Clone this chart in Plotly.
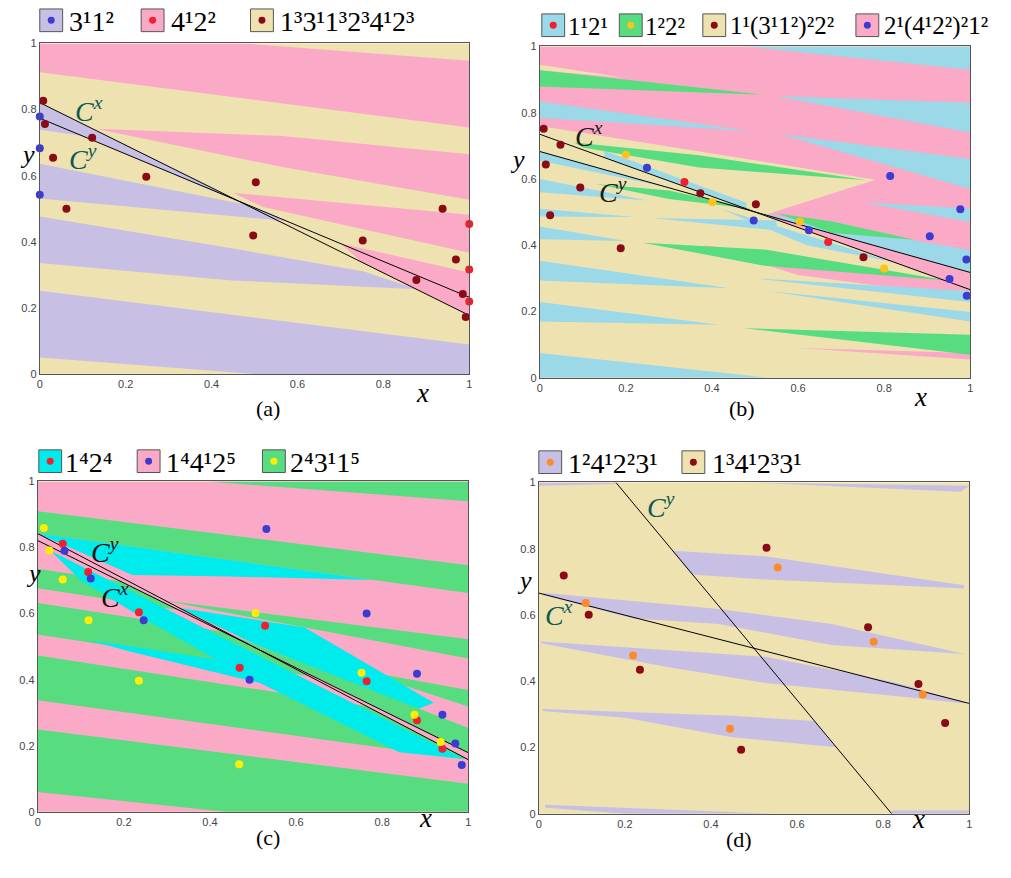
import plotly.graph_objects as go

W, H = 1011, 878
COL = {"pink": "#FAAAC6", "beige": "#EEE2B0", "lav": "#C8C0E4",
       "blue": "#9BD8E8", "green": "#58DC80", "cyan": "#00ECEC"}
DOT = {"blue": "#3C3CD2", "red": "#F0202E", "dred": "#8A0A16",
       "gold": "#FFC21A", "yellow": "#FFEE00", "orange": "#FF8A2A"}

# ---------------- data: panel (a) ----------------
a_bands = [
    ("pink", [0, 0.478, 1, 1, 0], [1, 1, 0.948, 0.746, 0.913]),
    ("pink", [0.13, 0.565, 1, 1, 0.565], [0.742, 0.72, 0.665, 0.527, 0.626]),
    ("pink", [0.45, 1, 1, 0.755, 0.52], [0.548, 0.482, 0.367, 0.437, 0.505]),
    ("pink", [0.70, 1, 1, 0.75], [0.395, 0.307, 0.177, 0.338]),
    ("pink", [0.47, 0.63, 0.56], [0.497, 0.432, 0.458]),
    ("lav", [0, 0.5, 0.10, 0], [0.821, 0.5, 0.72, 0.739]),
    ("lav", [0, 0.49, 0.573, 0], [0.636, 0.51, 0.463, 0.531]),
    ("lav", [0, 0.447, 0.755, 0.879, 0.447, 0], [0.476, 0.38, 0.31, 0.256, 0.283, 0.336]),
    ("lav", [0, 1, 1, 0.5, 0], [0.252, 0.089, 0, 0, 0.05]),
]
a_cx = ([0, 1], [0.821, 0.177])
a_cy = ([0, 1], [0.774, 0.232])
a_blue_x = [0, 0, 0]
a_blue_y = [0.779, 0.683, 0.542]
a_red_x = [1, 1, 1]
a_red_y = [0.454, 0.316, 0.219]
a_dred_x = [0.008, 0.012, 0.031, 0.062, 0.122, 0.248, 0.503, 0.497, 0.752, 0.877, 0.938, 0.969, 0.985, 0.992]
a_dred_y = [0.827, 0.756, 0.654, 0.5, 0.715, 0.597, 0.58, 0.419, 0.404, 0.284, 0.5, 0.346, 0.242, 0.172]

# ---------------- data: panel (b) ----------------
b_bands = [
    ("pink", [0, 1, 1, 0.52, 0.78, 0], [1, 1, 0.266, 0.491, 0.598, 0.76]),
    ("pink", [0.38, 0.947, 1, 1, 0.83, 0.6], [0.40, 0.294, 0.27, 0.262, 0.27, 0.31]),
    ("pink", [0.6, 1, 1], [0.09, 0.075, 0.055]),
    ("beige", [0, 0.2, 0], [0.945, 0.905, 0.928]),
    ("blue", [0.477, 1, 1], [1, 1, 0.93]),
    ("blue", [0.55, 1, 1], [0.85, 0.83, 0.74]),
    ("blue", [0.56, 1, 1], [0.735, 0.66, 0.57]),
    ("blue", [0.75, 1, 1], [0.53, 0.51, 0.47]),
    ("blue", [0.5, 1, 1], [0.5, 0.385, 0.318]),
    ("blue", [0, 0.493, 0], [0.834, 0.744, 0.785]),
    ("blue", [0.15, 0.48, 0.48, 0.15], [0.685, 0.528, 0.51, 0.665]),
    ("blue", [0, 0.3, 0], [0.683, 0.574, 0.655]),
    ("blue", [0, 0.25, 0], [0.60, 0.535, 0.56]),
    ("blue", [0, 0.22, 0], [0.51, 0.485, 0.487]),
    ("blue", [0, 0.2, 0], [0.457, 0.413, 0.418]),
    ("blue", [0.26, 0.55, 0.55], [0.482, 0.475, 0.445]),
    ("blue", [0.42, 0.82, 0.62], [0.51, 0.35, 0.40]),
    ("blue", [0, 0.44, 0], [0.353, 0.27, 0.294]),
    ("blue", [0, 0.416, 0], [0.229, 0.16, 0.17]),
    ("blue", [0, 0.533, 0], [0.075, 0, 0]),
    ("blue", [0.5, 1, 1], [0.30, 0.262, 0.229]),
    ("blue", [0.53, 1, 1], [0.262, 0.199, 0.17]),
    ("green", [0, 0.523, 0], [0.928, 0.854, 0.879]),
    ("green", [0.08, 0.37, 0.76, 0.37, 0.10], [0.71, 0.672, 0.596, 0.635, 0.695]),
    ("green", [0.239, 0.523, 0.947, 0.523], [0.408, 0.387, 0.294, 0.338]),
    ("green", [0.55, 0.68, 0.87, 0.68], [0.497, 0.472, 0.417, 0.437]),
    ("green", [0.13, 0.3, 0.49, 0.3], [0.585, 0.565, 0.51, 0.54]),
    ("green", [0.473, 1, 1], [0.15, 0.13, 0.07]),
]
b_cx = ([0, 1], [0.735, 0.266])
b_cy = ([0, 1], [0.683, 0.318])
b_red_x = [0.336, 0.67]
b_red_y = [0.591, 0.41]
b_gold_x = [0.2, 0.401, 0.604, 0.8]
b_gold_y = [0.673, 0.53, 0.472, 0.33]
b_dred_x = [0.009, 0.014, 0.048, 0.024, 0.094, 0.188, 0.373, 0.502, 0.752]
b_dred_y = [0.752, 0.644, 0.703, 0.491, 0.574, 0.391, 0.557, 0.524, 0.364]
b_blue_x = [0.249, 0.497, 0.625, 0.814, 0.906, 0.977, 0.991, 0.952, 0.992]
b_blue_y = [0.634, 0.475, 0.445, 0.609, 0.427, 0.509, 0.357, 0.298, 0.248]

# ---------------- data: panel (c) ----------------
c_bands = [
    ("pink", [0, 1, 1, 0], [0, 0, 1, 1]),
    ("green", [0.392, 1, 1], [1, 1, 0.94]),
    ("green", [0, 1, 1, 0], [0.91, 0.746, 0.662, 0.842]),
    ("green", [0.29, 1, 1], [0.64, 0.522, 0.464]),
    ("green", [0.74, 1, 1], [0.43, 0.369, 0.319]),
    ("green", [0, 0.193, 0.327, 0], [0.736, 0.697, 0.611, 0.677]),
    ("green", [0, 0.4286, 0.63, 0], [0.632, 0.546, 0.411, 0.537]),
    ("green", [0, 0.762, 1, 0], [0.473, 0.32, 0.158, 0.338]),
    ("green", [0, 1, 1, 0.435, 0], [0.249, 0.085, 0, 0, 0.06]),
    ("cyan", [0, 0.78, 0.45, 0.22], [0.842, 0.702, 0.712, 0.717]),
    ("cyan", [0.33, 0.62, 0.92, 0.88, 0.5], [0.617, 0.558, 0.33, 0.31, 0.51]),
    ("cyan", [0.03, 0.99, 0.84, 0.61, 0.47, 0.24, 0.1], [0.79, 0.16, 0.18, 0.33, 0.42, 0.59, 0.7]),
    ("cyan", [0.12, 0.47, 0.62, 0.45, 0.2], [0.52, 0.45, 0.36, 0.41, 0.49]),
    ("green", [0.45, 1, 1], [0.535, 0.254, 0.179]),
]
c_cy = ([0, 1], [0.842, 0.158])
c_cx = ([0, 1], [0.821, 0.179])
c_red_x = [0.058, 0.117, 0.235, 0.469, 0.528, 0.764, 0.881, 0.94]
c_red_y = [0.811, 0.726, 0.604, 0.436, 0.563, 0.395, 0.277, 0.191]
c_blue_x = [0.062, 0.123, 0.246, 0.492, 0.531, 0.764, 0.881, 0.94, 0.97, 0.985]
c_blue_y = [0.79, 0.706, 0.58, 0.4, 0.856, 0.6, 0.418, 0.294, 0.207, 0.142]
c_yel_x = [0.014, 0.027, 0.058, 0.118, 0.235, 0.468, 0.506, 0.752, 0.875, 0.936]
c_yel_y = [0.859, 0.791, 0.703, 0.58, 0.397, 0.144, 0.602, 0.421, 0.294, 0.211]

# ---------------- data: panel (d) ----------------
d_bands = [
    ("lav", [0, 0.179, 0.179, 0], [1, 1, 0.995, 0.99]),
    ("lav", [0.48, 1, 0.98], [1, 0.99, 0.972]),
    ("lav", [0.31, 0.526, 0.988, 0.988, 0.526, 0.356], [0.794, 0.777, 0.69, 0.68, 0.707, 0.722]),
    ("lav", [0.01, 0.418, 0.68, 0.99, 0.68, 0.418, 0.217, 0.01], [0.667, 0.618, 0.573, 0.482, 0.509, 0.573, 0.59, 0.66]),
    ("lav", [0.005, 0.295, 0.526, 0.7, 0.834, 0.99, 0.99, 0.834, 0.526, 0.295, 0.005],
     [0.52, 0.494, 0.474, 0.43, 0.395, 0.335, 0.333, 0.355, 0.395, 0.444, 0.515]),
    ("lav", [0.009, 0.449, 0.64, 0.69, 0.449, 0.2, 0.009], [0.316, 0.296, 0.28, 0.201, 0.231, 0.29, 0.31]),
    ("lav", [0.015, 0.55, 0.2, 0.015], [0.027, 0, 0, 0.018]),
    ("lav", [0.82, 1, 1, 0.82], [0.01, 0.01, 0, 0]),
]
d_cx = ([0, 1], [0.666, 0.333])
d_cy = ([0.179, 0.82], [1, 0])
d_orange_x = [0.109, 0.219, 0.444, 0.555, 0.778, 0.892]
d_orange_y = [0.636, 0.478, 0.257, 0.743, 0.519, 0.36]
d_dred_x = [0.058, 0.116, 0.235, 0.47, 0.529, 0.765, 0.882, 0.944]
d_dred_y = [0.719, 0.601, 0.435, 0.193, 0.803, 0.563, 0.392, 0.274]

# legend labels
a_leg = [("lav", "blue", "3¹1²"), ("pink", "red", "4¹2²"), ("beige", "dred", "1³3¹1³2³4¹2³")]
b_leg = [("blue", "red", "1¹2¹"), ("green", "gold", "1²2²"), ("beige", "dred", "1¹(3¹1²)²2²"), ("pink", "blue", "2¹(4¹2²)²1²")]
c_leg = [("cyan", "red", "1⁴2⁴"), ("pink", "blue", "1⁴4¹2⁵"), ("green", "yellow", "2⁴3¹1⁵")]
d_leg = [("lav", "orange", "1²4¹2²3¹"), ("beige", "dred", "1³4¹2³3¹")]

# ---------------- layout (page pixels) ----------------
panels = {
    "a": ("", 37, 469, 38, 373),
    "b": ("2", 540, 973, 41, 377),
    "c": ("3", 35, 468, 482, 817),
    "d": ("4", 539, 972, 483, 819),
}

fig = go.Figure()


def px(X):
    return X / W


def py(Y):
    return 1 - Y / H


def add_bands(bands, s):
    for key, xs, ys in bands:
        fig.add_trace(go.Scatter(x=xs, y=ys, fill="toself", fillcolor=COL[key], mode="lines",
                                 line=dict(width=0), hoverinfo="skip", showlegend=False,
                                 xaxis="x" + s, yaxis="y" + s))


def add_line(xy, s):
    fig.add_trace(go.Scatter(x=xy[0], y=xy[1], mode="lines", line=dict(color="black", width=1),
                             hoverinfo="skip", showlegend=False, xaxis="x" + s, yaxis="y" + s))


def add_dots(xs, ys, c, s):
    fig.add_trace(go.Scatter(x=xs, y=ys, mode="markers", marker=dict(size=8, color=DOT[c]),
                             cliponaxis=False, hoverinfo="skip", showlegend=False,
                             xaxis="x" + s, yaxis="y" + s))


add_bands(a_bands, "")
add_line(a_cx, ""); add_line(a_cy, "")
add_dots(a_blue_x, a_blue_y, "blue", ""); add_dots(a_red_x, a_red_y, "red", "")
add_dots(a_dred_x, a_dred_y, "dred", "")

add_bands(b_bands, "2")
add_line(b_cx, "2"); add_line(b_cy, "2")
add_dots(b_red_x, b_red_y, "red", "2"); add_dots(b_gold_x, b_gold_y, "gold", "2")
add_dots(b_dred_x, b_dred_y, "dred", "2"); add_dots(b_blue_x, b_blue_y, "blue", "2")

add_bands(c_bands, "3")
add_line(c_cx, "3"); add_line(c_cy, "3")
add_dots(c_red_x, c_red_y, "red", "3"); add_dots(c_blue_x, c_blue_y, "blue", "3")
add_dots(c_yel_x, c_yel_y, "yellow", "3")

add_bands(d_bands, "4")
add_line(d_cx, "4"); add_line(d_cy, "4")
add_dots(d_orange_x, d_orange_y, "orange", "4"); add_dots(d_dred_x, d_dred_y, "dred", "4")

layout = dict(width=W, height=H, margin=dict(l=0, r=0, t=0, b=0),
              paper_bgcolor="white", plot_bgcolor=COL["beige"], showlegend=False)
tickvals = [0, 0.2, 0.4, 0.6, 0.8, 1]
ticktext = ["0", "0.2", "0.4", "0.6", "0.8", "1"]
for name, (s, l, r, t, b) in panels.items():
    common = dict(range=[0, 1], showgrid=False, zeroline=False, showline=True, mirror=True,
                  linecolor="#555555", linewidth=1, ticks="", tickvals=tickvals, ticktext=ticktext,
                  tickfont=dict(family="Liberation Sans", size=11, color="#444444"), fixedrange=True)
    layout["xaxis" + s] = dict(common, domain=[px(l), px(r)], anchor="y" + s)
    layout["yaxis" + s] = dict(common, domain=[py(b), py(t)], anchor="x" + s)
fig.update_layout(**layout)

shapes, ann = [], []
SERIF = "Liberation Serif"


def legend(entries, box_lefts, text_lefts, top, size, fs):
    for (fk, dk, txt), bl, tl in zip(entries, box_lefts, text_lefts):
        shapes.append(dict(type="rect", xref="paper", yref="paper", x0=px(bl), x1=px(bl + size),
                           y0=py(top + size), y1=py(top), fillcolor=COL[fk],
                           line=dict(color="#555555", width=1)))
        cx, cy = bl + size / 2, top + size / 2
        shapes.append(dict(type="circle", xref="paper", yref="paper", x0=px(cx - 3.5), x1=px(cx + 3.5),
                           y0=py(cy + 3.5), y1=py(cy - 3.5), fillcolor=DOT[dk], line=dict(width=0)))
        ann.append(dict(xref="paper", yref="paper", x=px(tl), y=py(cy + 1), xanchor="left", yanchor="middle",
                        text=txt, showarrow=False, font=dict(family=SERIF, size=fs, color="black")))


legend(a_leg, [37, 139, 249], [64, 167, 277], 3, 23, 28)
legend(b_leg, [542, 620, 704, 858], [566, 644, 729, 884], 8, 23, 25)
legend(c_leg, [36, 135, 261], [60, 162, 287], 450, 23, 28)
legend(d_leg, [539, 683], [566, 711], 451, 23, 28)

for X, Y in [(422, 392), (932, 396), (425, 840), (930, 842)]:
    ann.append(dict(xref="paper", yref="paper", x=px(X), y=py(Y), text="<i>x</i>", showarrow=False,
                    font=dict(family=SERIF, size=27, color="black")))
for X, Y in [(15, 134), (518, 139), (21, 575), (525, 582)]:
    ann.append(dict(xref="paper", yref="paper", x=px(X), y=py(Y), text="<i>y</i>", showarrow=False,
                    font=dict(family=SERIF, size=26, color="black")))
for X, Y, t in [(253, 408, "(a)"), (758, 408, "(b)"), (252, 858, "(c)"), (755, 860, "(d)")]:
    ann.append(dict(xref="paper", yref="paper", x=px(X), y=py(Y), text=t, showarrow=False,
                    font=dict(family=SERIF, size=22, color="black")))

curve_labels = [
    ("", 0.115, 0.80, "x", "#0E5A52"), ("", 0.10, 0.655, "y", "#0E5A52"),
    ("2", 0.115, 0.735, "x", "#1a1a1a"), ("2", 0.17, 0.566, "y", "#1a1a1a"),
    ("3", 0.155, 0.79, "y", "#111111"), ("3", 0.18, 0.655, "x", "#111111"),
    ("4", 0.285, 0.93, "y", "#0E5A52"), ("4", 0.048, 0.603, "x", "#0E5A52"),
]
for s, x, y, sup, colr in curve_labels:
    ann.append(dict(xref="x" + s, yref="y" + s, x=x, y=y, text="<i>C</i><sup><i>%s</i></sup>" % sup,
                    showarrow=False, font=dict(family=SERIF, size=28, color=colr)))

fig.update_layout(shapes=shapes, annotations=ann)
fig.write_html("out.html")
